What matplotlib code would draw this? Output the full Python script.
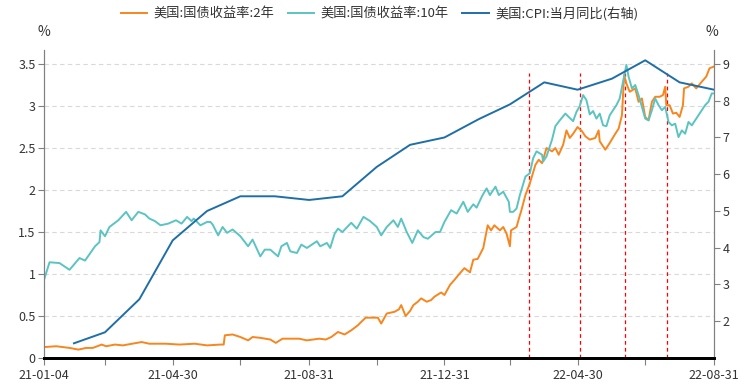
import matplotlib
matplotlib.use('Agg')
import matplotlib.pyplot as plt
import pandas as pd

plt.rcParams['font.family'] = ['Noto Sans CJK SC', 'DejaVu Sans']

# ---------------- data ----------------
y10_dates = ['2021-01-04', '2021-01-09', '2021-01-18', '2021-01-27', '2021-02-05', '2021-02-10',
             '2021-02-19', '2021-02-23', '2021-02-24', '2021-02-28', '2021-03-04', '2021-03-12',
             '2021-03-19', '2021-03-24', '2021-03-30', '2021-04-05', '2021-04-09', '2021-04-14',
             '2021-04-19', '2021-04-26', '2021-05-03', '2021-05-08', '2021-05-13', '2021-05-17',
             '2021-05-19', '2021-05-25', '2021-05-31', '2021-06-03', '2021-06-05', '2021-06-10',
             '2021-06-14', '2021-06-18', '2021-06-23', '2021-06-30', '2021-07-07', '2021-07-11',
             '2021-07-18', '2021-07-22', '2021-07-27', '2021-08-03', '2021-08-06', '2021-08-11',
             '2021-08-14', '2021-08-20', '2021-08-24', '2021-08-29', '2021-09-07', '2021-09-10',
             '2021-09-16', '2021-09-19', '2021-09-23', '2021-09-26', '2021-09-30', '2021-10-08',
             '2021-10-13', '2021-10-19', '2021-10-25', '2021-10-31', '2021-11-04', '2021-11-09',
             '2021-11-15', '2021-11-19', '2021-11-22', '2021-11-27', '2021-12-02', '2021-12-07',
             '2021-12-12', '2021-12-16', '2021-12-23', '2021-12-27', '2021-12-31', '2022-01-06',
             '2022-01-11', '2022-01-17', '2022-01-21', '2022-01-26', '2022-01-29', '2022-02-03',
             '2022-02-07', '2022-02-10', '2022-02-15', '2022-02-18', '2022-02-22', '2022-02-27',
             '2022-02-28', '2022-03-03', '2022-03-06', '2022-03-09', '2022-03-14', '2022-03-18',
             '2022-03-21', '2022-03-24', '2022-03-29', '2022-03-30', '2022-04-02', '2022-04-07',
             '2022-04-10', '2022-04-14', '2022-04-19', '2022-04-22', '2022-04-26', '2022-04-29',
             '2022-05-02', '2022-05-05', '2022-05-08', '2022-05-11', '2022-05-14', '2022-05-17',
             '2022-05-20', '2022-05-23', '2022-05-26', '2022-05-29', '2022-06-01', '2022-06-04',
             '2022-06-07', '2022-06-10', '2022-06-13', '2022-06-15', '2022-06-18', '2022-06-21',
             '2022-06-24', '2022-06-27', '2022-06-30', '2022-07-03', '2022-07-06', '2022-07-09',
             '2022-07-12', '2022-07-15', '2022-07-18', '2022-07-21', '2022-07-24', '2022-07-27',
             '2022-07-30', '2022-08-02', '2022-08-05', '2022-08-08', '2022-08-11', '2022-08-14',
             '2022-08-18', '2022-08-23', '2022-08-26', '2022-08-29', '2022-08-31']
y10_vals = [0.93, 1.14, 1.13, 1.05, 1.19, 1.16,
            1.33, 1.38, 1.52, 1.45, 1.56, 1.64,
            1.74, 1.64, 1.74, 1.71, 1.66, 1.63,
            1.58, 1.60, 1.64, 1.60, 1.68, 1.63,
            1.66, 1.58, 1.62, 1.62, 1.59, 1.46,
            1.56, 1.49, 1.53, 1.45, 1.33, 1.41,
            1.21, 1.29, 1.29, 1.21, 1.33, 1.37,
            1.27, 1.25, 1.35, 1.31, 1.39, 1.33,
            1.37, 1.31, 1.48, 1.54, 1.50, 1.61,
            1.54, 1.68, 1.63, 1.56, 1.46, 1.56,
            1.64, 1.56, 1.66, 1.50, 1.37, 1.52,
            1.44, 1.42, 1.50, 1.50, 1.62, 1.76,
            1.72, 1.86, 1.74, 1.83, 1.79, 1.93,
            2.02, 1.94, 2.04, 1.94, 1.98, 1.86,
            1.74, 1.74, 1.78, 1.94, 2.16, 2.20,
            2.38, 2.46, 2.42, 2.34, 2.40, 2.60,
            2.76, 2.83, 2.91, 2.87, 2.82, 2.93,
            3.00, 3.13, 3.07, 2.90, 2.94, 2.85,
            2.91, 2.77, 2.76, 2.89, 2.95, 3.01,
            3.09, 3.29, 3.49, 3.35, 3.21, 3.25,
            3.13, 2.99, 2.85, 2.83, 2.95, 3.09,
            3.01, 2.95, 2.99, 2.81, 2.77, 2.79,
            2.63, 2.71, 2.67, 2.81, 2.77, 2.83,
            2.91, 3.01, 3.05, 3.15, 3.15]

y2_dates = ['2021-01-04', '2021-01-15', '2021-01-27', '2021-02-04', '2021-02-11', '2021-02-17',
            '2021-02-25', '2021-03-01', '2021-03-09', '2021-03-16', '2021-04-02', '2021-04-09',
            '2021-04-24', '2021-05-06', '2021-05-20', '2021-05-31', '2021-06-12', '2021-06-15',
            '2021-06-16', '2021-06-23', '2021-06-30', '2021-07-07', '2021-07-11', '2021-07-18',
            '2021-07-27', '2021-08-01', '2021-08-07', '2021-08-22', '2021-08-29', '2021-09-09',
            '2021-09-15', '2021-09-20', '2021-09-26', '2021-10-02', '2021-10-08', '2021-10-14',
            '2021-10-17', '2021-10-21', '2021-10-27', '2021-11-01', '2021-11-04', '2021-11-09',
            '2021-11-16', '2021-11-20', '2021-11-22', '2021-11-26', '2021-11-30', '2021-12-03',
            '2021-12-07', '2021-12-10', '2021-12-15', '2021-12-19', '2021-12-22', '2021-12-28',
            '2021-12-31', '2022-01-05', '2022-01-09', '2022-01-14', '2022-01-18', '2022-01-23',
            '2022-01-26', '2022-01-30', '2022-02-04', '2022-02-08', '2022-02-11', '2022-02-14',
            '2022-02-19', '2022-02-22', '2022-02-25', '2022-02-28', '2022-03-01', '2022-03-06',
            '2022-03-09', '2022-03-10', '2022-03-14', '2022-03-18', '2022-03-23', '2022-03-26',
            '2022-03-29', '2022-04-02', '2022-04-07', '2022-04-10', '2022-04-13', '2022-04-17',
            '2022-04-20', '2022-04-23', '2022-04-26', '2022-04-30', '2022-05-04', '2022-05-07',
            '2022-05-11', '2022-05-16', '2022-05-19', '2022-05-20', '2022-05-25', '2022-05-29',
            '2022-06-03', '2022-06-06', '2022-06-09', '2022-06-11', '2022-06-13', '2022-06-16',
            '2022-06-21', '2022-06-24', '2022-06-27', '2022-06-30', '2022-07-03', '2022-07-06',
            '2022-07-09', '2022-07-13', '2022-07-16', '2022-07-18', '2022-07-19', '2022-07-22',
            '2022-07-25', '2022-07-28', '2022-07-31', '2022-08-03', '2022-08-04', '2022-08-08',
            '2022-08-11', '2022-08-15', '2022-08-20', '2022-08-24', '2022-08-27', '2022-08-31']
y2_vals = [0.13, 0.14, 0.12, 0.10, 0.12, 0.12,
           0.16, 0.14, 0.16, 0.15, 0.19, 0.17,
           0.17, 0.16, 0.17, 0.15, 0.16, 0.16,
           0.27, 0.28, 0.25, 0.21, 0.25, 0.24,
           0.22, 0.18, 0.23, 0.23, 0.21, 0.23,
           0.22, 0.25, 0.31, 0.28, 0.33, 0.39,
           0.43, 0.48, 0.48, 0.48, 0.41, 0.53,
           0.55, 0.58, 0.63, 0.50, 0.56, 0.63,
           0.67, 0.71, 0.67, 0.69, 0.73, 0.78,
           0.75, 0.87, 0.93, 1.01, 1.07, 1.02,
           1.17, 1.18, 1.31, 1.58, 1.52, 1.58,
           1.52, 1.56, 1.48, 1.33, 1.52, 1.56,
           1.70, 1.74, 1.94, 2.08, 2.30, 2.36,
           2.32, 2.50, 2.46, 2.50, 2.42, 2.54,
           2.71, 2.62, 2.67, 2.75, 2.70, 2.64,
           2.60, 2.62, 2.71, 2.58, 2.48, 2.56,
           2.67, 2.73, 2.89, 3.37, 3.27, 3.17,
           3.21, 3.05, 3.09, 2.87, 2.83, 3.05,
           3.11, 3.11, 3.13, 3.23, 3.01, 3.01,
           2.91, 2.92, 2.87, 3.01, 3.21, 3.23,
           3.27, 3.21, 3.29, 3.35, 3.45, 3.47]

cpi_dates = ['2021-01-31', '2021-02-28', '2021-03-31', '2021-04-30', '2021-05-31', '2021-06-30',
             '2021-07-31', '2021-08-31', '2021-09-30', '2021-10-31', '2021-11-30', '2021-12-31',
             '2022-01-31', '2022-02-28', '2022-03-31', '2022-04-30', '2022-05-31', '2022-06-30',
             '2022-07-31', '2022-08-31']
cpi_vals = [1.4, 1.7, 2.6, 4.2, 5.0, 5.4, 5.4, 5.3, 5.4, 6.2, 6.8, 7.0,
            7.5, 7.9, 8.5, 8.3, 8.6, 9.1, 8.5, 8.3]

event_dates = ['2022-03-17', '2022-05-02', '2022-06-12', '2022-07-20']

xtick_dates = ['2021-01-04', '2021-02-28', '2021-04-30', '2021-06-30', '2021-08-31', '2021-10-31',
               '2021-12-31', '2022-02-28', '2022-04-30', '2022-06-30', '2022-08-31']
xtick_labels = ['21-01-04', '', '21-04-30', '', '21-08-31', '', '21-12-31', '', '22-04-30', '', '22-08-31']
left_ticks = [0, 0.5, 1, 1.5, 2, 2.5, 3, 3.5]
left_labels = ['0', '0.5', '1', '1.5', '2', '2.5', '3', '3.5']
right_ticks = [2, 3, 4, 5, 6, 7, 8, 9]

series_names = ['美国:国债收益率:2年', '美国:国债收益率:10年', '美国:CPI:当月同比(右轴)']
colors = ['#F7861F', '#5BC4C2', '#1F6FA6']

# ---------------- figure ----------------
W, H = 756, 389
fig = plt.figure(figsize=(W / 100, H / 100), dpi=100)
ax = fig.add_axes([44 / W, 1 - 358 / H, 670 / W, 308 / H])
ax2 = ax.twinx()

l2, = ax.plot(pd.to_datetime(y2_dates), y2_vals, color=colors[0], lw=1.4, zorder=3)
l10, = ax.plot(pd.to_datetime(y10_dates), y10_vals, color=colors[1], lw=1.4, zorder=3)
lc, = ax2.plot(pd.to_datetime(cpi_dates), cpi_vals, color=colors[2], lw=1.4, zorder=3)

for d in pd.to_datetime(event_dates):
    ax.axvline(d, ymin=0, ymax=0.925, color='#FF0000', lw=0.9, ls=(0, (3, 2.5)), zorder=2)

ax.set_xlim(pd.Timestamp('2021-01-04'), pd.Timestamp('2022-08-31'))
ax.set_ylim(0, 3.667)
ax2.set_ylim(1.0, 9.38)

ax.set_yticks(left_ticks)
ax.set_yticklabels(left_labels)
ax2.set_yticks(right_ticks)
ax.set_xticks(pd.to_datetime(xtick_dates))
ax.set_xticklabels(xtick_labels)

ax.yaxis.grid(True, color='#D9D9D9', ls=(0, (4, 3)), lw=0.8)
ax.set_axisbelow(True)

for a in (ax, ax2):
    a.spines['top'].set_visible(False)
    a.spines['left'].set_color('#808080')
    a.spines['right'].set_color('#808080')
    a.spines['left'].set_linewidth(0.8)
    a.spines['right'].set_linewidth(0.8)
    a.spines['bottom'].set_color('black')
    a.spines['bottom'].set_linewidth(2.0)
    a.tick_params(axis='both', direction='out', length=4, width=0.8, color='#808080',
                  labelcolor='#333333', labelsize=9, pad=2)
ax.tick_params(axis='x', length=5, pad=3)

fig.text(44 / W, 1 - 32 / H, '%', ha='center', va='center', fontsize=10, color='#333333')
fig.text(712 / W, 1 - 32 / H, '%', ha='center', va='center', fontsize=10, color='#333333')

fig.legend([l2, l10, lc], series_names, loc='center', bbox_to_anchor=(0.502, 0.964), ncol=3,
           frameon=False, fontsize=9.5, handlelength=2.0, handletextpad=0.5, columnspacing=1.0,
           labelcolor='#333333')

fig.savefig('out.png', dpi=100)
